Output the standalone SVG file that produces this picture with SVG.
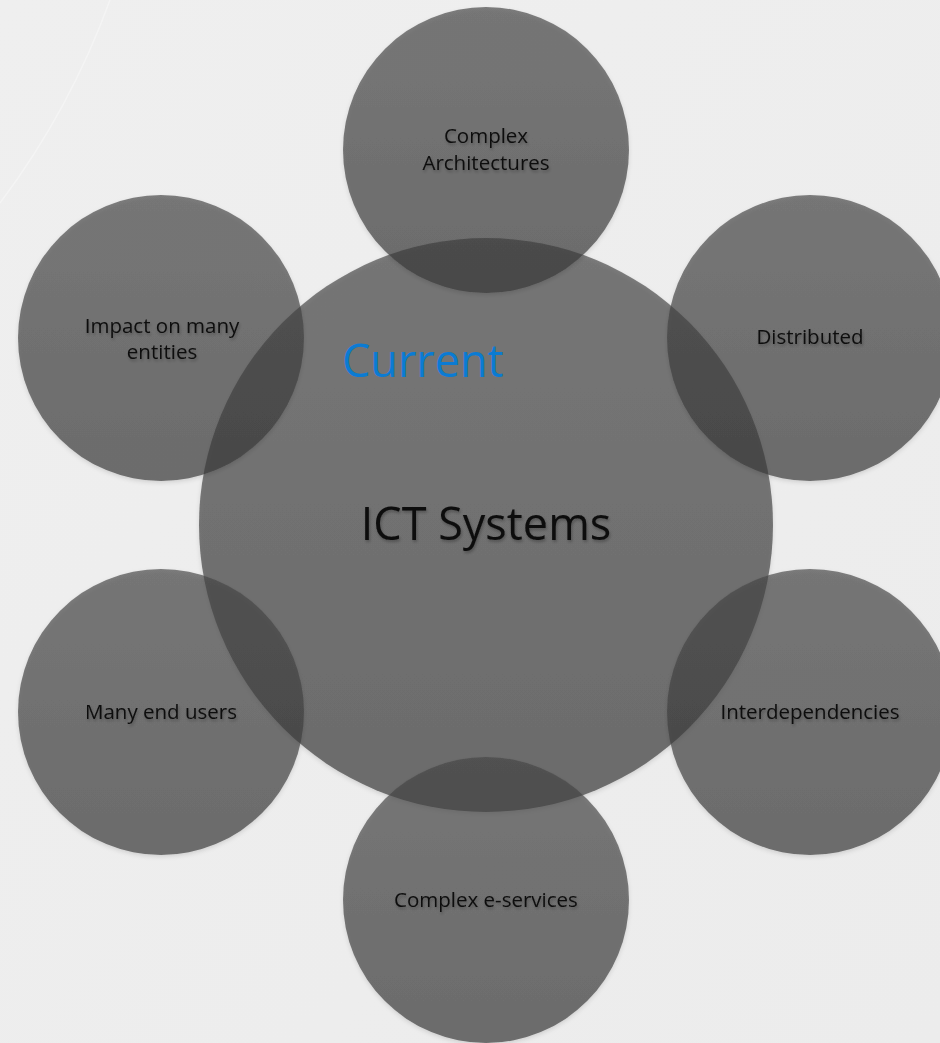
<svg xmlns="http://www.w3.org/2000/svg" width="940" height="1043" viewBox="0 0 940 1043">
  <defs>
    <linearGradient id="bg" x1="0" y1="0" x2="1" y2="1">
      <stop offset="0" stop-color="#efefef"/>
      <stop offset="1" stop-color="#ececec"/>
    </linearGradient>
    <linearGradient id="disc" x1="0" y1="0" x2="0" y2="1">
      <stop offset="0" stop-color="#474747"/>
      <stop offset="1" stop-color="#383838"/>
    </linearGradient>
    <filter id="soft" x="-10%" y="-10%" width="120%" height="125%">
      <feDropShadow dx="0" dy="2" stdDeviation="2" flood-color="#000" flood-opacity="0.18"/>
    </filter>
    <filter id="tshadow" x="-10%" y="-30%" width="120%" height="170%">
      <feDropShadow dx="1" dy="2" stdDeviation="1.5" flood-color="#000" flood-opacity="0.28"/>
    </filter>
  </defs>
  <style>
    .disc { fill: url(#disc); fill-opacity: 0.67; filter: url(#soft); }
    .lbl { font-family: "Open Sans", "Liberation Sans", sans-serif; font-size: 20.5px; fill: #0d0d0d; text-anchor: middle; filter: url(#tshadow); }
    .big { font-family: "Open Sans", "Liberation Sans", sans-serif; font-size: 45px; fill: #0d0d0d; text-anchor: middle; filter: url(#tshadow); }
    .cur { font-family: "Open Sans", "Liberation Sans", sans-serif; font-size: 45px; fill: #0b7bd3; }
  </style>
  <rect x="0" y="0" width="940" height="1043" fill="url(#bg)"/>
  <path d="M0,203 Q70,110 110,0" fill="none" stroke="#ffffff" stroke-opacity="0.35" stroke-width="1.5"/>
  <g id="connectors"/>
  <g id="node-center">
    <circle class="disc" cx="486" cy="525" r="287"/>
  </g>
  <g id="node-architectures">
    <circle class="disc" cx="486" cy="150" r="143"/>
    <text class="lbl" x="486" y="143">Complex</text>
    <text class="lbl" x="486" y="170">Architectures</text>
  </g>
  <g id="node-distributed">
    <circle class="disc" cx="810" cy="338" r="143"/>
    <text class="lbl" x="810" y="344">Distributed</text>
  </g>
  <g id="node-interdependencies">
    <circle class="disc" cx="810" cy="712" r="143"/>
    <text class="lbl" x="810" y="719">Interdependencies</text>
  </g>
  <g id="node-eservices">
    <circle class="disc" cx="486" cy="900" r="143"/>
    <text class="lbl" x="486" y="907">Complex e-services</text>
  </g>
  <g id="node-endusers">
    <circle class="disc" cx="161" cy="712" r="143"/>
    <text class="lbl" x="161" y="719">Many end users</text>
  </g>
  <g id="node-impact">
    <circle class="disc" cx="161" cy="338" r="143"/>
    <text class="lbl" x="162" y="333">Impact on many</text>
    <text class="lbl" x="162" y="359">entities</text>
  </g>
  <g id="node-center-text">
    <text class="cur" x="342" y="377">Current</text>
    <text class="big" x="486" y="540">ICT Systems</text>
  </g>
</svg>
